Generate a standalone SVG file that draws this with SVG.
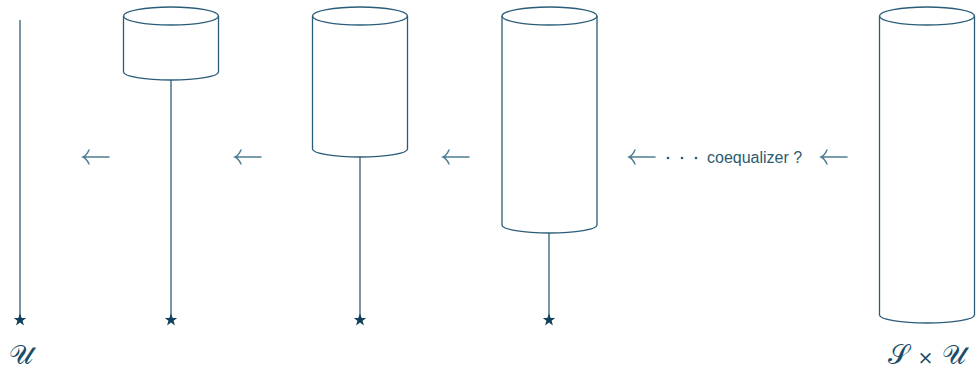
<svg xmlns="http://www.w3.org/2000/svg" width="976" height="371" viewBox="0 0 976 371">
<style>
.cyl{fill:none;stroke:#2b5d78;stroke-width:1.3}
.stem{stroke:#123f5a;stroke-width:1.1;fill:none}
.star{fill:#123f5a}
.arr{fill:none;stroke:#4d7d90;stroke-width:1.5;stroke-linecap:round}
.lbl{font-family:"Liberation Sans",Arial,sans-serif;font-size:16px;fill:#2c5b72}
.dot{fill:#2c5b72}
.math{font-family:"DejaVu Serif","Noto Sans",serif;font-size:27px;fill:#1c4d68;text-anchor:middle}
</style>
<defs>
<path id="st" d="M0,-6.5 L1.7,-2 L6.2,-2 L2.6,0.8 L3.9,5.4 L0,2.6 L-3.9,5.4 L-2.6,0.8 L-6.2,-2 L-1.7,-2 Z"/>
<path id="ar" d="M26,0 H0 M6,-7 Q3.5,-1.5 0,0 Q3.5,1.5 6,7"/>
</defs>
<rect width="976" height="371" fill="#ffffff"/>
<g id="connectors">
<line class="stem" x1="20" y1="20" x2="20" y2="316"/>
<line class="stem" x1="171" y1="80" x2="171" y2="316"/>
<line class="stem" x1="360" y1="157" x2="360" y2="316"/>
<line class="stem" x1="549" y1="233" x2="549" y2="316"/>
<use href="#ar" class="arr" x="83" y="157"/>
<use href="#ar" class="arr" x="235" y="157"/>
<use href="#ar" class="arr" x="443" y="157"/>
<use href="#ar" class="arr" x="629" y="157"/>
<use href="#ar" class="arr" x="821" y="157"/>
<circle class="dot" cx="668" cy="158" r="1.3"/>
<circle class="dot" cx="682" cy="158" r="1.3"/>
<circle class="dot" cx="696" cy="158" r="1.3"/>
<text class="lbl" x="707" y="163">coequalizer ?</text>
</g>
<g id="n0">
<use href="#st" class="star" x="20" y="320"/>
<text class="math" x="21" y="364">𝒰</text>
</g>
<g id="n1">
<ellipse class="cyl" cx="171" cy="16" rx="47.5" ry="9"/>
<path class="cyl" d="M123.5,16 V72 A47.5,8 0 0 0 218.5,72 V16"/>
<use href="#st" class="star" x="171" y="320"/>
</g>
<g id="n2">
<ellipse class="cyl" cx="360" cy="16" rx="47.5" ry="9"/>
<path class="cyl" d="M312.5,16 V149 A47.5,8 0 0 0 407.5,149 V16"/>
<use href="#st" class="star" x="360" y="320"/>
</g>
<g id="n3">
<ellipse class="cyl" cx="549.5" cy="16" rx="47.5" ry="9"/>
<path class="cyl" d="M502,16 V225 A47.5,8 0 0 0 597,225 V16"/>
<use href="#st" class="star" x="549" y="320"/>
</g>
<g id="n4">
<ellipse class="cyl" cx="927" cy="16" rx="47.5" ry="9"/>
<path class="cyl" d="M879.5,16 V315 A47.5,8 0 0 0 974.5,315 V16"/>
<text class="math" x="927" y="364">𝒮 <tspan font-size="19">×</tspan> 𝒰</text>
</g>
</svg>
